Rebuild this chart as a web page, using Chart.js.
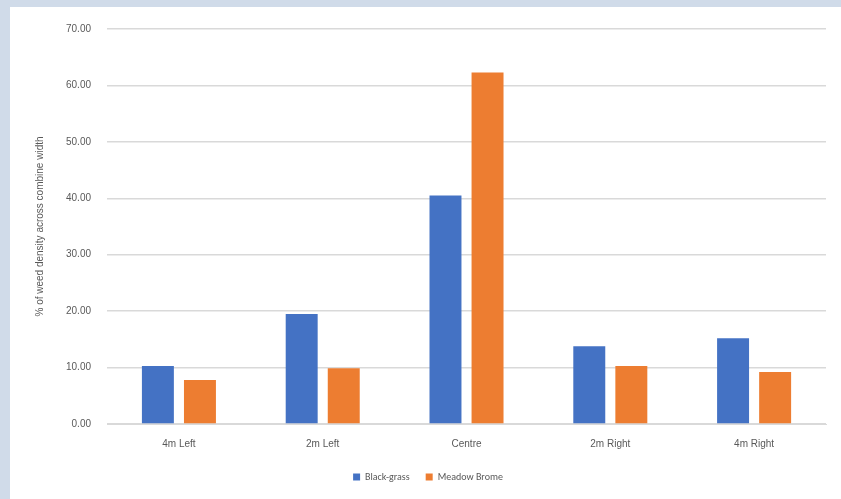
<!DOCTYPE html>
<html>
<head>
<meta charset="utf-8">
<script src="https://cdn.jsdelivr.net/npm/chart.js@4"></script>
<style>
    html, body { margin: 0; padding: 0; background: #d0dbe9; }
    .panel { position: absolute; left: 10px; top: 7px; width: 831px; height: 492px; background: #fff; }
    canvas { display: block; }
</style>
</head>
<body>
<div class="panel"><canvas id="weedChart" width="831" height="492"></canvas></div>
<script>
// Số liệu
const categories = ['4m Left', '2m Left', 'Centre', '2m Right', '4m Right'];
const blackGrass = [10.3, 19.5, 40.5, 13.8, 15.2];
const meadowBrome = [7.8, 9.9, 62.3, 10.3, 9.2];
const yTicks = [0, 10, 20, 30, 40, 50, 60, 70];

const ctx = document.getElementById('weedChart').getContext('2d');
new Chart(ctx, {
    type: 'bar',
    data: {
        labels: categories,
        datasets: [
            { label: 'Black-grass', data: blackGrass, backgroundColor: '#4472C4' },
            { label: 'Meadow Brome', data: meadowBrome, backgroundColor: '#ED7D31' }
        ]
    },
    options: {
        responsive: false,
        animation: false,
        layout: { padding: { left: 20, right: 15, top: 6, bottom: 7 } },
        datasets: { bar: { categoryPercentage: 0.585, barPercentage: 0.76 } },
        plugins: {
            legend: {
                position: 'bottom',
                labels: { boxWidth: 7, boxHeight: 7, color: '#595959', font: { family: 'Calibri, Carlito, "Liberation Sans", sans-serif', size: 10 }, padding: 16 }
            },
            tooltip: { enabled: false }
        },
        scales: {
            x: {
                grid: { display: false },
                border: { color: '#d9d9d9' },
                ticks: { color: '#595959', font: { size: 10 }, padding: 6 }
            },
            y: {
                min: 0,
                max: 70,
                afterBuildTicks: axis => { axis.ticks = yTicks.map(v => ({ value: v })); },
                grid: { color: '#d9d9d9', lineWidth: 1.5, drawTicks: false },
                border: { display: false },
                ticks: { color: '#595959', font: { size: 10 }, padding: 16, callback: v => v.toFixed(2) },
                title: { display: true, text: '% of weed density across combine width', color: '#595959', font: { size: 10 }, padding: 4 }
            }
        }
    }
});
</script>
</body>
</html>
